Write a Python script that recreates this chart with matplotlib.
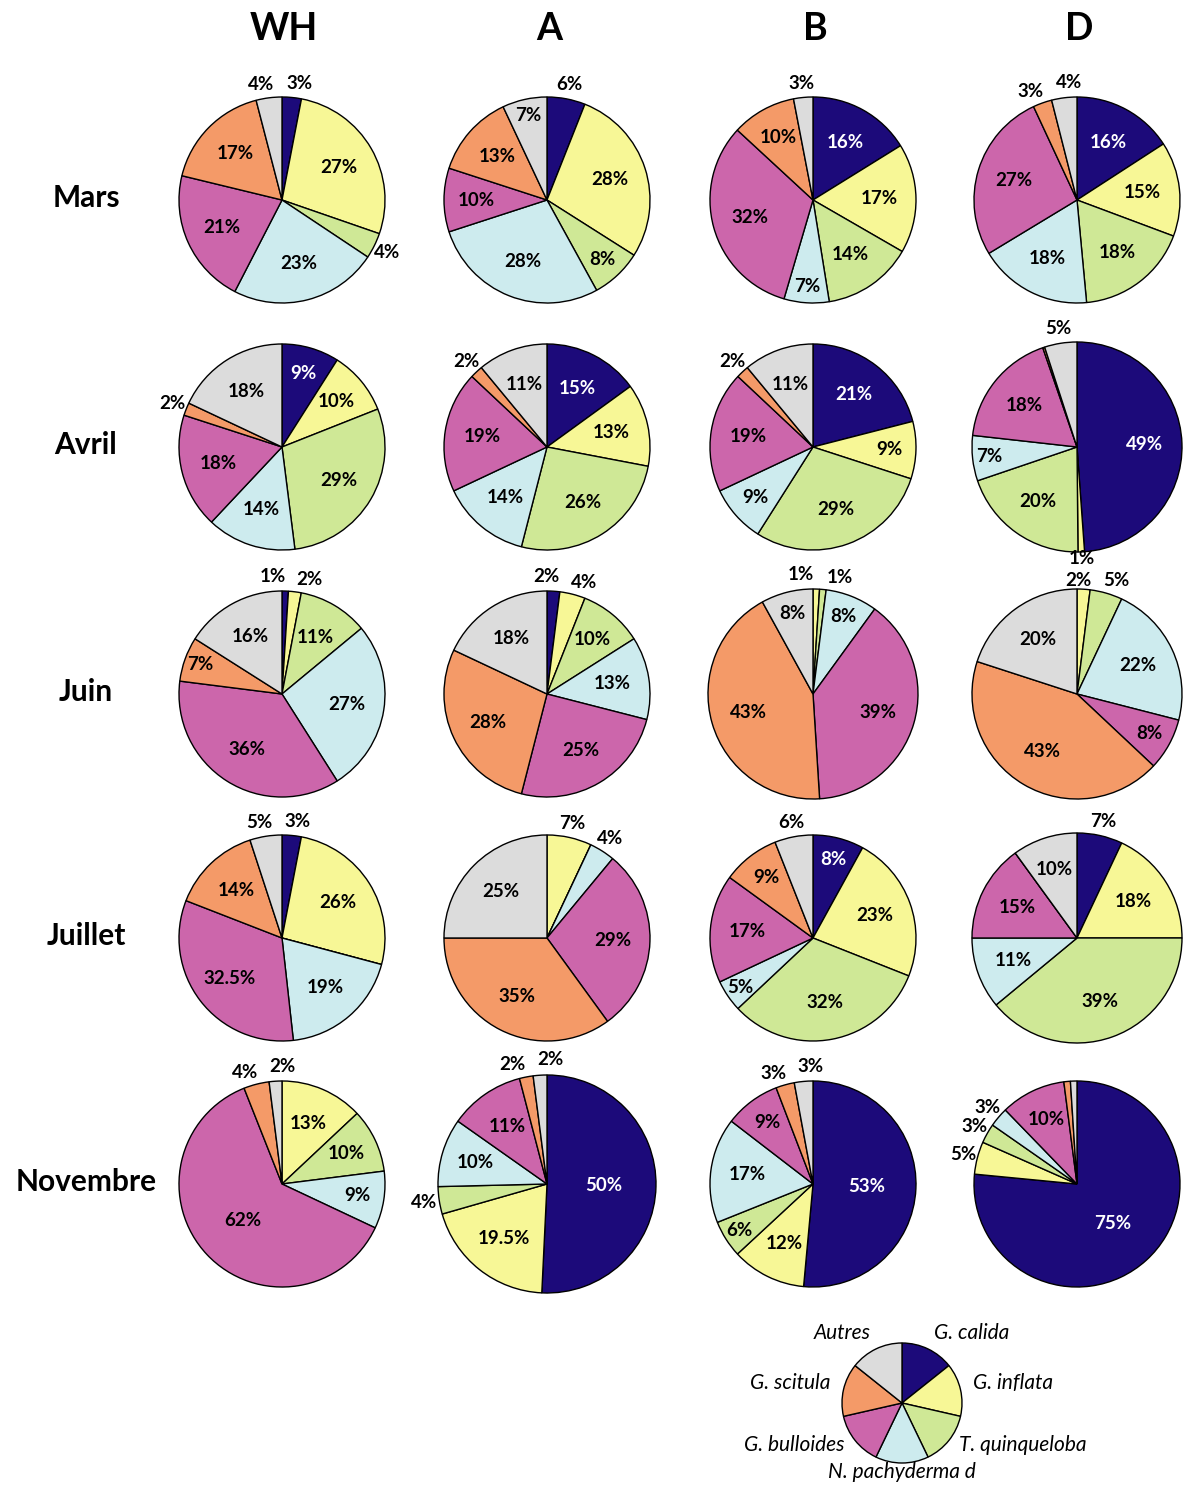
import numpy as np
import matplotlib
matplotlib.use("Agg")
import matplotlib.pyplot as plt

plt.rcParams['font.family'] = ['Lato', 'DejaVu Sans']

# ----- data : percentages per species, order as in `species` -----
species = ['G. calida', 'G. inflata', 'T. quinqueloba', 'N. pachyderma d',
           'G. bulloides', 'G. scitula', 'Autres']
colors = ['#1c0a7a', '#f7f796', '#cfe896', '#cdebee', '#cc66ab', '#f49a68', '#dcdcdc']
sites = ['WH', 'A', 'B', 'D']
months = ['Mars', 'Avril', 'Juin', 'Juillet', 'Novembre']

#          WH                            A                             B                            D
mars = [[3, 27, 4, 23, 21, 17, 4], [6, 28, 8, 28, 10, 13, 7], [16, 17, 14, 7, 32, 10, 3], [16, 15, 18, 18, 27, 3, 4]]
avril = [[9, 10, 29, 14, 18, 2, 18], [15, 13, 26, 14, 19, 2, 11], [21, 9, 29, 9, 19, 2, 11], [49, 1, 20, 7, 18, 0.3, 5]]
juin = [[1, 2, 11, 27, 36, 7, 16], [2, 4, 10, 13, 25, 28, 18], [0, 1, 1, 8, 39, 43, 8], [0, 2, 5, 22, 8, 43, 20]]
juillet = [[3, 26, 0, 19, 32.5, 14, 5], [0, 7, 0, 4, 29, 35, 25], [8, 23, 32, 5, 17, 9, 6], [7, 18, 39, 11, 15, 0, 10]]
novembre = [[0, 13, 10, 9, 62, 4, 2], [50, 19.5, 4, 10, 11, 2, 2], [53, 12, 6, 17, 9, 3, 3], [75, 5, 3, 3, 10, 1, 1]]
data = [mars, avril, juin, juillet, novembre]

# slices drawn but not labelled (month, site, species index)
no_label = {(1, 3, 5), (4, 3, 5), (4, 3, 6)}
# labels forced outside / inside the pie
force_out = {(0, 1, 0), (3, 1, 1), (3, 2, 6), (3, 3, 0)}
force_in = {(3, 2, 3)}
# outside labels drawn closer to the pie (avoid the row below / above)
out_dist = {(1, 3, 1): 1.06, (2, 3, 1): 1.08}

# ----- layout (pixels) -----
W, H = 1184, 1492
col_x = [282, 547, 813, 1077]
row_y = [200, 447, 694, 938, 1184]
radius = {(4, 1): 109, (1, 3): 105, (2, 2): 105, (2, 3): 105, (3, 3): 105}
pct_size = 13.5

fig = plt.figure(figsize=(W / 100, H / 100), dpi=100)
ax = fig.add_axes([0, 0, 1, 1])


def fmt(v):
    return ('%g' % v) + '%'


def text_w(s):
    return 12.5 * len(s) + 12


def polar(cx, cy, r, ang):
    a = np.radians(ang)
    return cx + r * np.cos(a), cy + r * np.sin(a)


for m in range(len(months)):
    for s in range(len(sites)):
        vals = data[m][s]
        cx, cy = col_x[s], H - row_y[m]
        r = radius.get((m, s), 103)
        wedges, _ = ax.pie(vals, colors=colors, startangle=90, counterclock=False,
                           center=(cx, cy), radius=r, frame=True,
                           wedgeprops=dict(edgecolor='black', linewidth=1.0))
        outside = []
        for k, w in enumerate(wedges):
            v = vals[k]
            if v == 0 or (m, s, k) in no_label:
                continue
            mid = (w.theta1 + w.theta2) / 2
            lab = fmt(v)
            out = (v < 6 or (m, s, k) in force_out) and (m, s, k) not in force_in
            if out:
                outside.append([mid, lab, out_dist.get((m, s, k), 1.14)])
                continue
            if v >= 50:
                d = 0.52
            else:
                d = min(0.85, 0.64 + max(0, 11 - v) * 0.05)
            x, y = polar(cx, cy, d * r, mid)
            ax.text(x, y, lab, ha='center', va='center', fontsize=pct_size,
                    fontweight='bold', color='white' if k == 0 else 'black')
        # push apart outside labels that overlap
        n = len(outside)
        for _ in range(300):
            moved = False
            for i in range(n):
                for j in range(i + 1, n):
                    x1, y1 = polar(cx, cy, outside[i][2] * r, outside[i][0])
                    x2, y2 = polar(cx, cy, outside[j][2] * r, outside[j][0])
                    wd = (text_w(outside[i][1]) + text_w(outside[j][1])) / 2
                    if abs(x1 - x2) < wd and abs(y1 - y2) < 16:
                        step = 0.5 if (outside[i][0] - outside[j][0]) % 360 < 180 else -0.5
                        outside[i][0] += step
                        outside[j][0] -= step
                        moved = True
            if not moved:
                break
        for ang, lab, dist in outside:
            x, y = polar(cx, cy, dist * r, ang)
            ax.text(x, y, lab, ha='center', va='center', fontsize=pct_size,
                    fontweight='bold', color='black')

# column headers and row labels
for s, name in enumerate(sites):
    ax.text(col_x[s] + 2, H - 40, name, ha='center', va='baseline',
            fontsize=27, fontweight='bold')
for m, name in enumerate(months):
    ax.text(86, H - row_y[m] - 7, name, ha='center', va='baseline',
            fontsize=21.5, fontweight='bold')

# legend pie
lcx, lcy, lr = 902, H - 1403, 60
lw, _ = ax.pie([1] * len(species), colors=colors, startangle=90, counterclock=False,
               center=(lcx, lcy), radius=lr, frame=True,
               wedgeprops=dict(edgecolor='black', linewidth=1.0))
for w, name in zip(lw, species):
    mid = (w.theta1 + w.theta2) / 2
    x, y = polar(lcx, lcy, 1.22 * lr, mid)
    c = np.cos(np.radians(mid))
    ha = 'center' if abs(c) < 0.2 else ('left' if c > 0 else 'right')
    ax.text(x, y + 4, name, ha=ha, va='center', fontsize=15, fontstyle='italic')

ax.set_xlim(0, W)
ax.set_ylim(0, H)
ax.set_axis_off()
fig.savefig('out.png', dpi=100)
